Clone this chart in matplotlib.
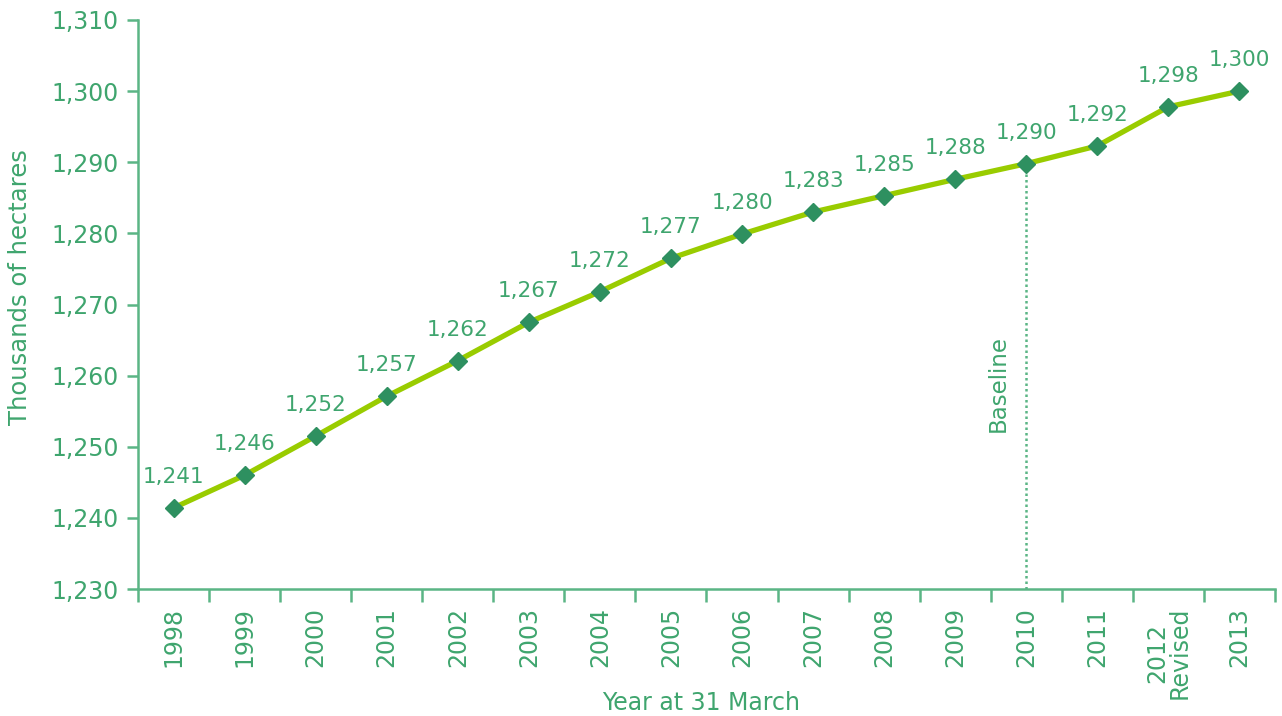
import matplotlib
matplotlib.use("Agg")
import matplotlib.pyplot as plt
import numpy as np

years = ["1998", "1999", "2000", "2001", "2002", "2003", "2004", "2005",
         "2006", "2007", "2008", "2009", "2010", "2011", "2012\nRevised", "2013"]
values = [1241.4, 1246.0, 1251.5, 1257.1, 1262.1, 1267.5, 1271.8, 1276.5,
          1279.9, 1283.0, 1285.3, 1287.6, 1289.8, 1292.3, 1297.8, 1300.0]
labels = ["1,241", "1,246", "1,252", "1,257", "1,262", "1,267", "1,272", "1,277",
          "1,280", "1,283", "1,285", "1,288", "1,290", "1,292", "1,298", "1,300"]
yticks = [1230, 1240, 1250, 1260, 1270, 1280, 1290, 1300, 1310]
baseline_year = "2010"

text_c = "#3fa56e"
axis_c = "#5bb585"
line_c = "#99cc00"
marker_c = "#2e9060"

plt.rcParams['font.family'] = ['DejaVu Sans']

fig = plt.figure(figsize=(12.82, 7.16), dpi=100)
ax = fig.add_axes([138/1282, 1-589/716, (1275-138)/1282, (589-20)/716])

x = np.arange(len(years))
ax.plot(x, values, color=line_c, lw=3.8, zorder=3)
ax.plot(x, values, ls='none', marker='D', ms=9.5, color=marker_c, zorder=4)
for xi, v, lab in zip(x, values, labels):
    ax.annotate(lab, (xi, v), xytext=(0, 15), textcoords='offset points',
                ha='center', va='bottom', fontsize=15.5, color=text_c)

bi = years.index(baseline_year)
ax.plot([bi, bi], [1230, values[bi]], ls=(0, (1, 1.2)), color=axis_c, lw=1.8, zorder=2)
ax.text(bi - 0.4, 1252.1, "Baseline", rotation=90, ha='center', va='bottom',
        fontsize=16.5, color=text_c)

ax.set_xlim(-0.5, len(years) - 0.5)
ax.set_ylim(1230, 1310)
ax.set_yticks(yticks)
ax.set_yticklabels([f"{t:,}" for t in yticks], fontsize=17, color=text_c)
ax.set_xticks(x)
ax.set_xticklabels(years, rotation=90, fontsize=17, color=text_c, linespacing=0.95)
ax.set_xticks(np.arange(-0.5, len(years)), minor=True)
ax.tick_params(axis='x', which='major', length=0, pad=13)
ax.tick_params(axis='x', which='minor', length=9, width=1.8, color=axis_c)
ax.tick_params(axis='y', length=8, width=1.8, color=axis_c, pad=6)

for s in ['top', 'right']:
    ax.spines[s].set_visible(False)
for s in ['left', 'bottom']:
    ax.spines[s].set_color(axis_c)
    ax.spines[s].set_linewidth(1.8)

ax.set_ylabel("Thousands of hectares", fontsize=17.5, color=text_c)
ax.yaxis.set_label_coords(-0.1038, 0.531)
ax.set_xlabel("Year at 31 March", fontsize=17, color=text_c)
ax.xaxis.set_label_coords(0.495, -0.2004)
ax.xaxis.label.set_va('center')
ax.yaxis.label.set_va('center')

fig.savefig("out.png", dpi=100)
